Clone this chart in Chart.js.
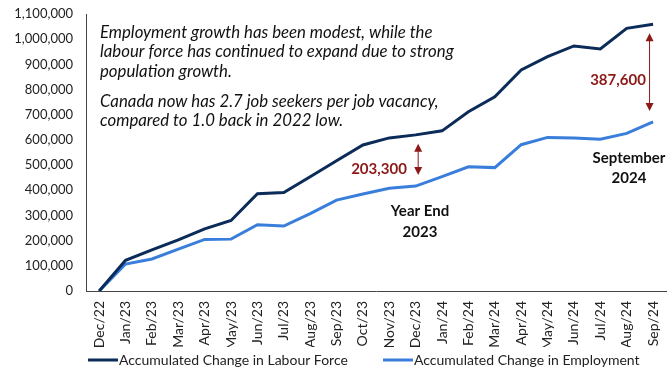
<!DOCTYPE html>
<html>
<head>
<meta charset="utf-8">
<script src="https://cdn.jsdelivr.net/npm/chart.js@4"></script>
<style>
  html, body { margin: 0; padding: 0; background: #fff; overflow: hidden; }
</style>
</head>
<body>
<canvas id="chart" width="680" height="369"></canvas>
<script>
const months = [
  "Dec/22",
  "Jan/23", "Feb/23", "Mar/23", "Apr/23", "May/23", "Jun/23",
  "Jul/23", "Aug/23", "Sep/23", "Oct/23", "Nov/23", "Dec/23",
  "Jan/24", "Feb/24", "Mar/24", "Apr/24", "May/24", "Jun/24",
  "Jul/24", "Aug/24", "Sep/24"
];

// accumulated change since Dec/22
const labourForce = [
  0, 122000, 163000, 203000, 247000, 280000, 386000,
  391000, 454000, 517000, 580000, 608000, 620000,
  636000, 712000, 771000, 878000, 931000, 973000,
  961000, 1043000, 1059000
];

const employment = [
  0, 107000, 127000, 166000, 205000, 206000, 263000,
  258000, 307000, 361000, 385000, 408000, 416700,
  454000, 493000, 490000, 581000, 610000, 608000,
  603000, 626000, 671400
];

const noteLines = [
  "Employment growth has been modest, while the",
  "labour force has continued to expand due to strong",
  "population growth.",
  "Canada now has 2.7 job seekers per job vacancy,",
  "compared to 1.0 back in 2022 low."
];

// gaps marked with arrows: [month index, label]
const gaps = [
  [12, "203,300"],
  [21, "387,600"]
];

const FONT = "Lato, 'Open Sans', sans-serif";
const RED = "#8c1818";

function drawArrow(ctx, x, y1, y2) {
  ctx.save();
  ctx.strokeStyle = RED;
  ctx.fillStyle = RED;
  ctx.lineWidth = 1;
  ctx.beginPath();
  ctx.moveTo(x, y1 + 6);
  ctx.lineTo(x, y2 - 6);
  ctx.stroke();
  ctx.beginPath();
  ctx.moveTo(x, y1);
  ctx.lineTo(x - 4, y1 + 8);
  ctx.lineTo(x + 4, y1 + 8);
  ctx.closePath();
  ctx.fill();
  ctx.beginPath();
  ctx.moveTo(x, y2);
  ctx.lineTo(x - 4, y2 - 8);
  ctx.lineTo(x + 4, y2 - 8);
  ctx.closePath();
  ctx.fill();
  ctx.restore();
}

const notes = {
  id: "notes",
  afterDraw(chart) {
    const ctx = chart.ctx;
    const xs = chart.scales.x;
    const ys = chart.scales.y;

    ctx.save();
    ctx.fillStyle = "#111";
    ctx.font = "italic 16.8px " + FONT;
    ctx.textBaseline = "middle";
    ctx.textAlign = "left";
    const lineY = [33, 52, 72, 102, 121];
    noteLines.forEach((t, i) => ctx.fillText(t, 100, lineY[i]));

    // gap arrows and their labels
    gaps.forEach(([i, label], k) => {
      const x = xs.getPixelForValue(i) + (k === 0 ? 2.5 : -3.5);
      const top = ys.getPixelForValue(labourForce[i]) + 9;
      const bottom = ys.getPixelForValue(employment[i]) - 11;
      drawArrow(ctx, x, top, bottom);
      ctx.font = "bold 15px " + FONT;
      ctx.fillStyle = RED;
      ctx.textAlign = "center";
      if (k === 0) ctx.fillText(label, 379, 169);
      else ctx.fillText(label, 618, 80);
    });

    ctx.font = "bold 15px " + FONT;
    ctx.fillStyle = "#111";
    ctx.textAlign = "center";
    ctx.fillText("Year End", 420, 211);
    ctx.fillText("2023", 420, 232);
    ctx.fillText("September", 629, 158);
    ctx.fillText("2024", 629, 178);

    // legend
    ctx.font = "14px " + FONT;
    ctx.textAlign = "left";
    ctx.fillStyle = "#222";
    ctx.lineWidth = 3;
    const items = [[88, chart.data.datasets[0]], [383, chart.data.datasets[1]]];
    items.forEach(([x, ds]) => {
      ctx.strokeStyle = ds.borderColor;
      ctx.beginPath();
      ctx.moveTo(x, 360);
      ctx.lineTo(x + 30, 360);
      ctx.stroke();
      ctx.fillText(ds.label, x + 31, 360);
    });
    ctx.restore();
  }
};

new Chart(document.getElementById("chart"), {
  type: "line",
  data: {
    labels: months,
    datasets: [
      {
        label: "Accumulated Change in Labour Force",
        data: labourForce,
        borderColor: "#0b2b58",
        borderWidth: 3,
        pointRadius: 0,
        tension: 0
      },
      {
        label: "Accumulated Change in Employment",
        data: employment,
        borderColor: "#3a7edc",
        borderWidth: 3,
        pointRadius: 0,
        tension: 0
      }
    ]
  },
  options: {
    responsive: false,
    animation: false,
    layout: { padding: { left: 0, right: 6.6, top: 14, bottom: 22 } },
    plugins: {
      legend: { display: false },
      tooltip: { enabled: false }
    },
    scales: {
      x: {
        offset: true,
        grid: { display: false, drawTicks: false },
        border: { display: true, color: "#444", width: 1 },
        ticks: {
          color: "#222",
          font: { family: FONT, size: 14 },
          minRotation: 90,
          maxRotation: 90,
          padding: 10,
          autoSkip: false
        },
        afterFit(scale) { scale.height = 56; }
      },
      y: {
        min: 0,
        max: 1100000,
        // hidden tick marks keep the labels off the axis line
        grid: { display: false, drawTicks: true, tickLength: 13 },
        border: { display: true, color: "#444", width: 1 },
        ticks: {
          stepSize: 100000,
          color: "#222",
          font: { family: FONT, size: 13 },
          padding: 0,
          callback: v => v.toLocaleString("en-US")
        },
        afterFit(scale) { scale.width = 86; }
      }
    }
  },
  plugins: [notes]
});
</script>
</body>
</html>
